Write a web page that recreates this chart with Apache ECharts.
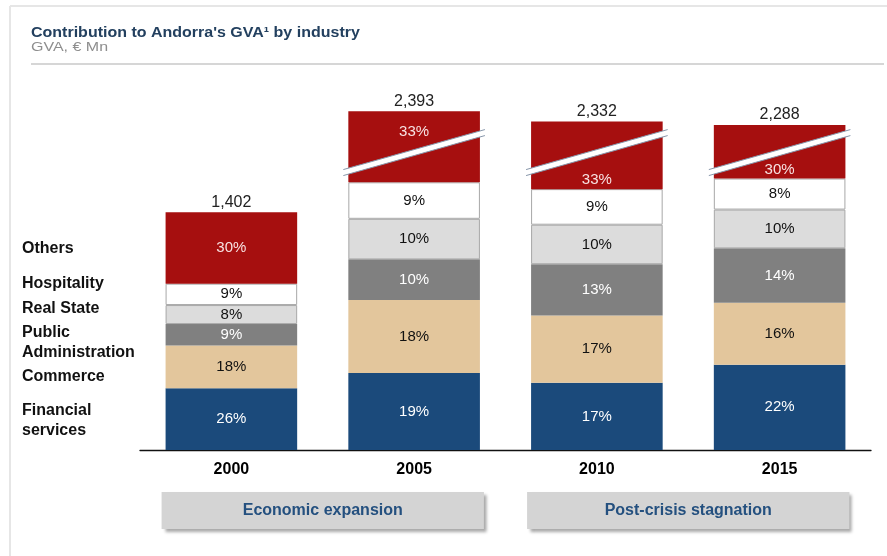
<!DOCTYPE html>
<html><head><meta charset="utf-8">
<script src="https://cdn.jsdelivr.net/npm/echarts@6/dist/echarts.min.js"></script>
<style>html,body{margin:0;padding:0;background:#fff}#c{width:887px;height:556px}</style>
</head><body><div id="c"></div>
<script>
// ---- data ----
const years = ['2000', '2005', '2010', '2015'];
const totals = [1402, 2393, 2332, 2288];            // GVA, € Mn
const financialShare   = [26, 19, 17, 22];           // %
const commerceShare    = [18, 18, 17, 16];
const publicAdminShare = [9, 10, 13, 14];
const realStateShare   = [8, 10, 10, 10];
const hospitalityShare = [9, 9, 9, 8];
const othersShare      = [30, 33, 33, 30];
const industryNames = ['Financial services', 'Commerce', 'Public Administration', 'Real State', 'Hospitality', 'Others'];
const legendLabels = ['Others', 'Hospitality', 'Real State', 'Public\nAdministration', 'Commerce', 'Financial\nservices'];
const periodNames = ['Economic expansion', 'Post-crisis stagnation'];
const periodSpans = [[0, 1], [2, 3]];
const axisBreak = { start: 1746, end: 2118 };         // broken value axis (€ Mn)
const titleText = "Contribution to Andorra's GVA\u00B9 by industry";
const subtitleText = 'GVA, \u20AC Mn';

// ---- styles ----
const FONT = '"Liberation Sans", Arial, Helvetica, sans-serif';
const shares = [financialShare, commerceShare, publicAdminShare, realStateShare, hospitalityShare, othersShare];
const colors = ['#1b4a7b', '#e3c69c', '#808080', '#dcdcdc', '#ffffff', '#a60f0f'];
const labelColors = ['#ffffff', '#111111', '#ffffff', '#111111', '#111111', '#f8e2e2'];
const borderOn = [false, false, false, true, true, false];
const othersLabelPos = [['inside', 5], ['insideTop', 13], ['insideBottom', 2], ['insideBottom', 1]];
const legendY = [249, 284, 309, 342.5, 377, 420.5];
const BAR_RATIO = 0.72;

const segValues = shares.map(s => s.map((p, i) => totals[i] * p / 100));
const stackTops = years.map((_, i) => segValues.reduce((a, s) => a + s[i], 0));

const barSeries = shares.map((s, k) => ({
  name: industryNames[k],
  type: 'bar',
  stack: 'gva',
  barWidth: (BAR_RATIO * 100) + '%',
  silent: true,
  itemStyle: { color: colors[k], borderColor: borderOn[k] ? '#a8a8a8' : colors[k], borderWidth: borderOn[k] ? 1 : 0 },
  label: {
    show: true, position: 'inside', color: labelColors[k],
    fontFamily: FONT, fontSize: 15,
    formatter: p => s[p.dataIndex] + '%'
  },
  data: segValues[k].map((v, i) => k === 5
    ? { value: v, label: { position: othersLabelPos[i][0], distance: othersLabelPos[i][1] } }
    : v)
}));

const chart = echarts.init(document.getElementById('c'), null, { renderer: 'canvas' });
chart.setOption({
  animation: false,
  backgroundColor: '#ffffff',
  grid: { left: 140, right: 16, top: 60, bottom: 106 },
  xAxis: {
    type: 'category', data: years,
    axisTick: { show: false },
    axisLine: { lineStyle: { color: '#111', width: 1.3 } },
    axisLabel: { margin: 12, fontFamily: FONT, fontSize: 16, fontWeight: 'bold', color: '#000' }
  },
  yAxis: {
    type: 'value', min: 0, max: 2672, show: false,
    splitLine: { show: false },
    breaks: [{ start: axisBreak.start, end: axisBreak.end, gap: 1 }],
    breakArea: { show: false }
  },
  graphic: [
    { type: 'line', silent: true, shape: { x1: 10, y1: 6, x2: 887, y2: 6 }, style: { stroke: '#e6e6e6', lineWidth: 2 } },
    { type: 'line', silent: true, shape: { x1: 10, y1: 6, x2: 10, y2: 556 }, style: { stroke: '#e6e6e6', lineWidth: 2 } },
    { type: 'line', silent: true, shape: { x1: 31, y1: 64, x2: 884, y2: 64 }, style: { stroke: '#c8c8c8', lineWidth: 1.5 } },
    { type: 'text', silent: true, x: 31, y: 33, scaleY: 0.88,
      style: { x: 0, y: 0, text: titleText, align: 'left', verticalAlign: 'middle', font: 'bold 16px ' + FONT, fill: '#23405f' } },
    { type: 'text', silent: true, x: 31, y: 47, scaleY: 0.85,
      style: { x: 0, y: 0, text: subtitleText, align: 'left', verticalAlign: 'middle', font: '16px ' + FONT, fill: '#8e8e8e' } },
    ...legendLabels.map((t, i) => ({
      type: 'text', silent: true,
      style: {
        x: 22, y: legendY[i], text: t,
        align: 'left', verticalAlign: 'middle', lineHeight: 19.5,
        font: 'bold 16px ' + FONT, fill: '#111'
      }
    }))
  ],
  series: [
    ...barSeries,
    { // axis-break slashes on the truncated bars
      type: 'custom', z: 5, silent: true, clip: false,
      data: years.map((_, i) => [i, axisBreak.start]).filter(d => stackTops[d[0]] > axisBreak.start),
      renderItem: (params, api) => {
        const c = api.coord([api.value(0), api.value(1)]);
        const half = api.size([1, 0])[0] * BAR_RATIO / 2 + 5;
        const rise = 20, h = 3;
        const L = c[0] - half, R = c[0] + half, cy = c[1] - 1.5;
        return {
          type: 'group', children: [
            { type: 'polygon', shape: { points: [[L, cy + rise - h], [R, cy - rise - h], [R, cy - rise + h], [L, cy + rise + h]] }, style: { fill: '#ffffff' } },
            { type: 'line', shape: { x1: L, y1: cy + rise - h, x2: R, y2: cy - rise - h }, style: { stroke: '#8796aa', lineWidth: 1 } },
            { type: 'line', shape: { x1: L, y1: cy + rise + h, x2: R, y2: cy - rise + h }, style: { stroke: '#8796aa', lineWidth: 1 } }
          ]
        };
      }
    },
    { // totals above bars
      type: 'custom', z: 6, silent: true, clip: false,
      data: stackTops.map((v, i) => [i, v]),
      renderItem: (params, api) => {
        const c = api.coord([api.value(0), api.value(1)]);
        return {
          type: 'text',
          style: {
            x: c[0], y: c[1] - 2, text: totals[params.dataIndex].toLocaleString('en-US'),
            align: 'center', verticalAlign: 'bottom', font: '16px ' + FONT, fill: '#222'
          }
        };
      }
    },
    { // period boxes below the axis
      type: 'custom', z: 6, silent: true, clip: false,
      data: periodSpans,
      encode: { x: [0, 1] },
      renderItem: (params, api) => {
        const a = api.coord([api.value(0), 0]);
        const b = api.coord([api.value(1), 0]);
        const bw = api.size([1, 0])[0] * BAR_RATIO;
        const x0 = a[0] - bw / 2 - 4, x1 = b[0] + bw / 2 + 4;
        const y0 = a[1] + 42, hh = 37;
        return {
          type: 'group', children: [
            { type: 'rect', shape: { x: x0, y: y0, width: x1 - x0, height: hh },
              style: { fill: '#d4d4d4', shadowBlur: 3, shadowOffsetX: 3, shadowOffsetY: 3, shadowColor: 'rgba(0,0,0,0.35)' } },
            { type: 'text', style: { x: (x0 + x1) / 2, y: y0 + hh / 2, text: periodNames[params.dataIndex],
              align: 'center', verticalAlign: 'middle', font: 'bold 16px ' + FONT, fill: '#24507f' } }
          ]
        };
      }
    }
  ]
});
</script>
</body></html>
